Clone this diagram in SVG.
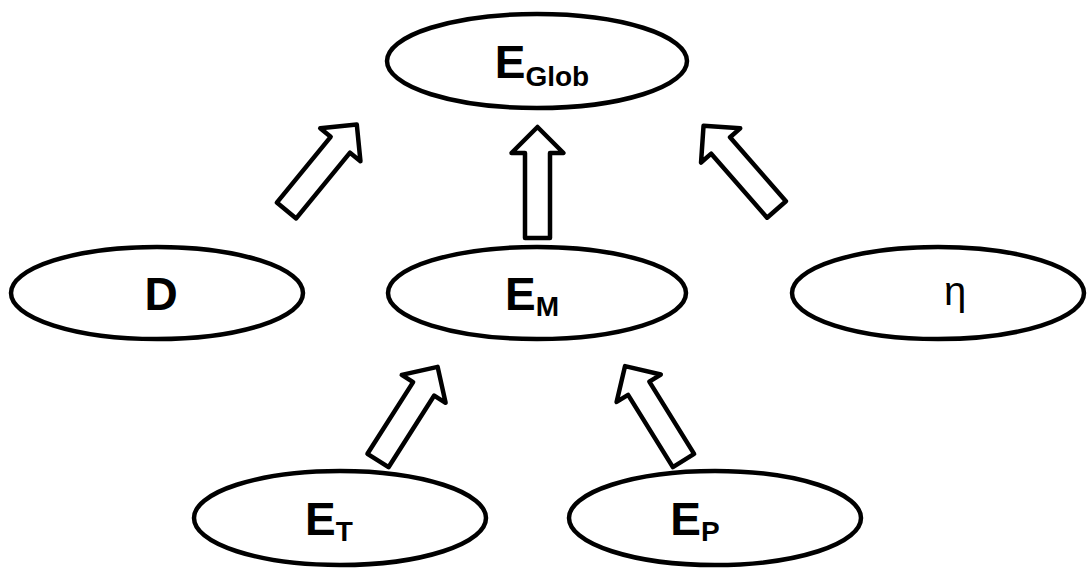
<svg xmlns="http://www.w3.org/2000/svg" width="1088" height="571" viewBox="0 0 1088 571">
<style>
.node{fill:#fff;stroke:#000;stroke-width:4.5}
.lbl{font-family:"Liberation Sans",Arial,sans-serif;font-weight:bold;font-size:46px;fill:#000;text-anchor:middle}
.sub{font-size:28px}
.eta{font-family:"Liberation Sans",Arial,sans-serif;font-size:40px;fill:#000;text-anchor:middle}
.arr{fill:#fff;stroke:#000;stroke-width:4.5;stroke-linejoin:round}
</style>
<defs>
<path id="blk" d="M0,-111 L26,-85 L12.5,-85 L12.5,0 L-12.5,0 L-12.5,-85 L-26,-85 Z"/>
</defs>
<rect width="1088" height="571" fill="#fff"/>
<g id="connectors">
<use href="#blk" class="arr" transform="translate(537.5,238)"/>
<use href="#blk" class="arr" transform="translate(286.5,210.5) rotate(39.3)"/>
<use href="#blk" class="arr" transform="translate(776.5,209.5) rotate(-41.1)"/>
<use href="#blk" class="arr" transform="translate(378,460.5) rotate(32.5)"/>
<use href="#blk" class="arr" transform="translate(683.5,460.5) rotate(-31.8)"/>
</g>
<g id="node-eglob">
<ellipse class="node" cx="537" cy="61" rx="150" ry="47"/>
<text class="lbl" x="542" y="78">E<tspan class="sub" dy="8">Glob</tspan></text>
</g>
<g id="node-d">
<ellipse class="node" cx="157" cy="293" rx="146" ry="46"/>
<text class="lbl" x="161" y="310">D</text>
</g>
<g id="node-em">
<ellipse class="node" cx="537" cy="293" rx="149" ry="46"/>
<text class="lbl" x="532" y="310">E<tspan class="sub" dy="6">M</tspan></text>
</g>
<g id="node-eta">
<ellipse class="node" cx="938" cy="293" rx="146" ry="46"/>
<text class="eta" x="955" y="305">η</text>
</g>
<g id="node-et">
<ellipse class="node" cx="340" cy="518" rx="146" ry="47"/>
<text class="lbl" x="329" y="535">E<tspan class="sub" dy="6">T</tspan></text>
</g>
<g id="node-ep">
<ellipse class="node" cx="715" cy="518" rx="146" ry="47"/>
<text class="lbl" x="695" y="535">E<tspan class="sub" dy="6">P</tspan></text>
</g>
</svg>
